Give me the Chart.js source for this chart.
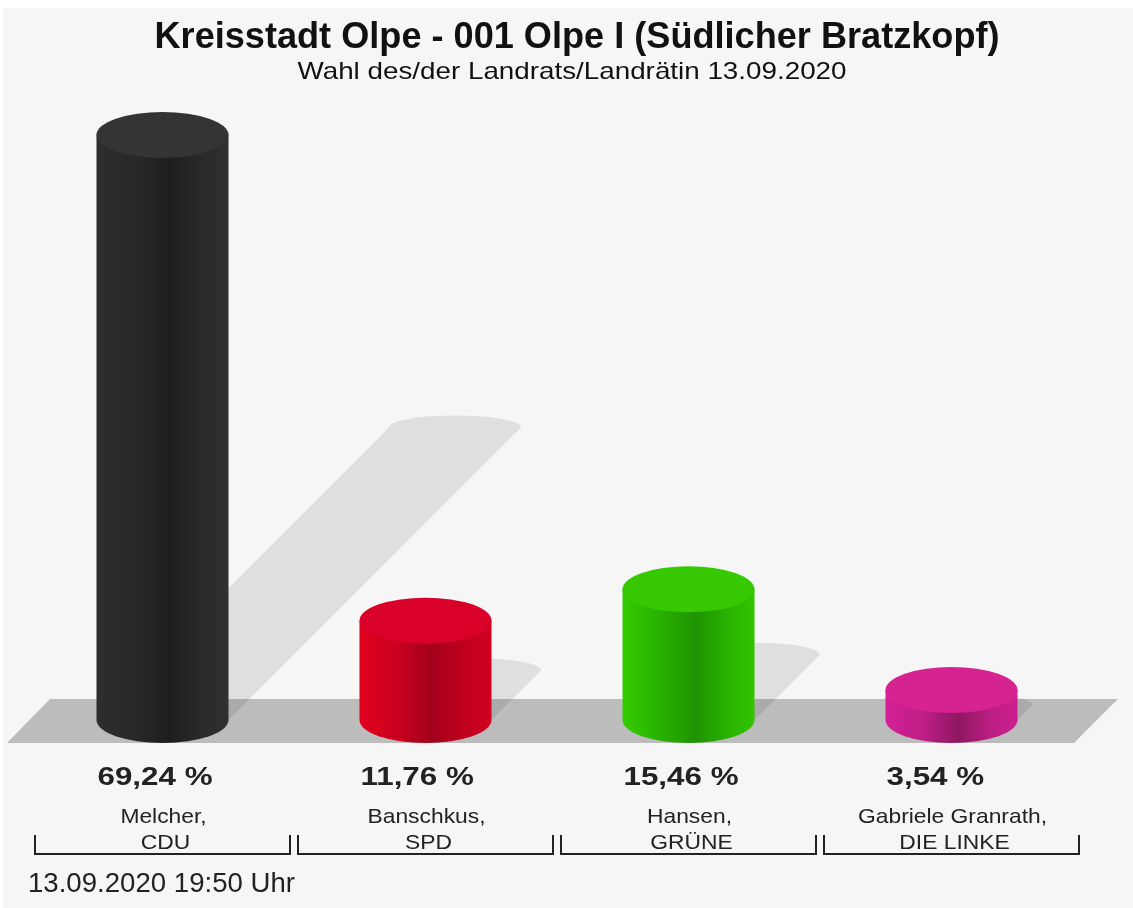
<!DOCTYPE html>
<html>
<head>
<meta charset="utf-8">
<script src="https://cdn.jsdelivr.net/npm/chart.js@4"></script>
<style>
html,body{margin:0;padding:0;background:#fff;}
#wrap{width:1133px;height:908px;}
</style>
</head>
<body>
<div id="wrap"><canvas id="wahlChart" width="1133" height="908"></canvas></div>
<script>
// Ergebnis-Daten
const titleText = "Kreisstadt Olpe - 001 Olpe I (Südlicher Bratzkopf)";
const subtitleText = "Wahl des/der Landrats/Landrätin 13.09.2020";
const footerText = "13.09.2020 19:50 Uhr";

const candidates = [
["Melcher,", "CDU"],
["Banschkus,", "SPD"],
["Hansen,", "GRÜNE"],
["Gabriele Granrath,", "DIE LINKE"]
];
const shares = [69.24, 11.76, 15.46, 3.54];

// Farben (Deckel + Verlauf der Seite)
const topColors = ["#343434", "#d9002a", "#36c800", "#d72391"];
const sideColors = [
["#2e2e2e", "#282828", "#1e1e1e", "#2a2a2a", "#303030"],
["#e2001f", "#c8001e", "#a2001b", "#c2001f", "#d0001f"],
["#34cc00", "#28b000", "#1e9400", "#29b200", "#33c400"],
["#d42096", "#bd1d85", "#8e1760", "#bc1e83", "#cc2090"]
];
const sideStops = [0, 0.3, 0.55, 0.8, 1];

const FONT = '"Liberation Sans", Arial, Helvetica, sans-serif';
const RY = 23;

function fmt(v){
return v.toFixed(2).replace(".", ",") + " %";
}

// Text horizontal strecken/stauchen auf Zielbreite
function stretchText(ctx, text, x, y, sx, align){
ctx.save();
ctx.translate(x, y);
ctx.scale(sx, 1);
ctx.textAlign = align;
ctx.fillText(text, 0, 0);
ctx.restore();
}

const cylinderPlugin = {
id: "cylinders",
beforeDraw(chart){
const ctx = chart.ctx;
ctx.save();
ctx.fillStyle = "#ffffff";
ctx.fillRect(0, 0, chart.width, chart.height);
ctx.fillStyle = "#f6f6f6";
ctx.fillRect(3, 8, chart.width - 3, chart.height - 8);
ctx.restore();
},
beforeDatasetsDraw(chart){
const ctx = chart.ctx;
const area = chart.chartArea;
const base = chart.scales.y.getPixelForValue(0);

// Boden
ctx.save();
ctx.fillStyle = "#bcbcbc";
ctx.beginPath();
ctx.moveTo(area.left - 24, base + RY);
ctx.lineTo(area.left + 19, base - RY + 2);
ctx.lineTo(area.right + 35, base - RY + 2);
ctx.lineTo(area.right - 9, base + RY);
ctx.closePath();
ctx.fill();

// Schatten
ctx.fillStyle = "rgba(0,0,0,0.09)";
chart.getDatasetMeta(0).data.forEach(bar => {
const rx = bar.width / 2;
const d = (bar.base - bar.y) / 2;
ctx.beginPath();
ctx.moveTo(bar.x - rx, bar.base);
ctx.lineTo(bar.x - rx + d, bar.base - d);
ctx.ellipse(bar.x + d, bar.base - d, rx, 12, 0, Math.PI, 2 * Math.PI);
ctx.lineTo(bar.x + rx, bar.base);
ctx.closePath();
ctx.fill();
});
ctx.restore();
},
afterDatasetsDraw(chart){
const ctx = chart.ctx;
const meta = chart.getDatasetMeta(0);
ctx.save();
meta.data.forEach((bar, i) => {
const rx = bar.width / 2;
const g = ctx.createLinearGradient(bar.x - rx, 0, bar.x + rx, 0);
sideStops.forEach((s, k) => g.addColorStop(s, sideColors[i][k]));
ctx.fillStyle = g;
ctx.beginPath();
ctx.moveTo(bar.x - rx, bar.y);
ctx.lineTo(bar.x - rx, bar.base);
ctx.ellipse(bar.x, bar.base, rx, RY, 0, Math.PI, 0, true);
ctx.lineTo(bar.x + rx, bar.y);
ctx.closePath();
ctx.fill();

ctx.fillStyle = topColors[i];
ctx.beginPath();
ctx.ellipse(bar.x, bar.y, rx, RY, 0, 0, 2 * Math.PI);
ctx.fill();
});
ctx.restore();
},
afterDraw(chart){
const ctx = chart.ctx;
const xs = chart.scales.x;
const catW = xs.getPixelForValue(1) - xs.getPixelForValue(0);
ctx.save();
ctx.fillStyle = "#111";
ctx.textBaseline = "alphabetic";

// Titel
ctx.font = "bold 36px " + FONT;
stretchText(ctx, titleText, 577, 48, 845 / ctx.measureText(titleText).width, "center");
ctx.font = "24px " + FONT;
stretchText(ctx, subtitleText, 572, 79, 549 / ctx.measureText(subtitleText).width, "center");

// Prozentwerte
ctx.fillStyle = "#222";
ctx.font = "bold 25px " + FONT;
const pSx = 115 / ctx.measureText(fmt(shares[0])).width;
shares.forEach((v, i) => {
const cx = xs.getPixelForValue(i);
stretchText(ctx, fmt(v), cx - 65, 785, pSx, "left");
});

// Namen
ctx.font = "21px " + FONT;
const nSx = 189 / ctx.measureText(candidates[3][0]).width;
candidates.forEach((c, i) => {
const cx = xs.getPixelForValue(i);
stretchText(ctx, c[0], cx + 1, 823, nSx, "center");
stretchText(ctx, c[1], cx + 3, 849, nSx, "center");
});

// Klammern
ctx.strokeStyle = "#222";
ctx.lineWidth = 2;
candidates.forEach((c, i) => {
const cx = xs.getPixelForValue(i);
const l = cx - catW / 2 + 4;
const r = cx + catW / 2 - 4;
ctx.beginPath();
ctx.moveTo(l, 835);
ctx.lineTo(l, 854);
ctx.lineTo(r, 854);
ctx.lineTo(r, 835);
ctx.stroke();
});

// Stand
ctx.font = "28px " + FONT;
stretchText(ctx, footerText, 28, 892, 267 / ctx.measureText(footerText).width, "left");
ctx.restore();
}
};

const ctx = document.getElementById("wahlChart");

new Chart(ctx, {
type: "bar",
data: {
labels: candidates,
datasets: [{
label: "Stimmenanteil",
data: shares,
backgroundColor: "rgba(0,0,0,0)",
borderWidth: 0,
categoryPercentage: 1,
barPercentage: 0.502
}]
},
options: {
responsive: false,
animation: false,
layout: {
padding: { left: 31, right: 50, top: 44, bottom: 188 }
},
plugins: {
legend: { display: false },
title: { display: false },
tooltip: { enabled: false }
},
scales: {
x: { display: false },
y: { display: false, min: 0, max: 80 }
}
},
plugins: [cylinderPlugin]
});
</script>
</body>
</html>
